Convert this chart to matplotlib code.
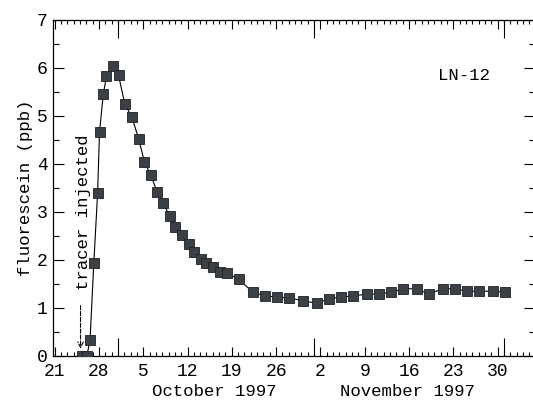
import matplotlib
matplotlib.use("Agg")
import matplotlib.pyplot as plt
from matplotlib.ticker import MultipleLocator, FixedLocator

plt.rcParams['font.family'] = ['Liberation Mono', 'DejaVu Sans Mono']

# days since 21 Sep 1997
days = [4.4, 5.1, 5.6, 6.2, 6.8, 7.1, 7.7, 8.2, 9.2, 10.1, 11.1, 12.2, 13.3, 14.2,
        15.2, 16.2, 17.1, 18.2, 19.1, 20.2, 21.2, 22.1, 23.1, 24.0, 25.1, 26.1,
        27.2, 29.1, 31.3, 33.2, 35.2, 37.1, 39.2, 41.4, 43.3, 45.2, 47.2, 49.3,
        51.2, 53.2, 55.1, 57.2, 59.1, 61.3, 63.2, 65.2, 67.1, 69.2, 71.2]
fluor = [0, 0, 0.33, 1.94, 3.40, 4.67, 5.46, 5.83, 6.04, 5.85, 5.25, 4.98, 4.52,
         4.04, 3.77, 3.42, 3.19, 2.92, 2.69, 2.52, 2.33, 2.17, 2.02, 1.94, 1.85,
         1.75, 1.73, 1.60, 1.33, 1.25, 1.23, 1.21, 1.15, 1.10, 1.19, 1.23, 1.25,
         1.29, 1.29, 1.33, 1.40, 1.40, 1.29, 1.40, 1.40, 1.35, 1.35, 1.35, 1.33]

week_ticks = [0, 7, 14, 21, 28, 35, 42, 49, 56, 63, 70]
week_labels = ['21', '28', '5', '12', '19', '26', '2', '9', '16', '23', '30']
month_ticks = [10, 41, 71]   # 1 Oct, 1 Nov, 1 Dec
inject_day = 4.1

fig = plt.figure(figsize=(5.33, 4.01), dpi=100)
ax = fig.add_axes([53 / 533, 45 / 401, 482 / 533, 336 / 401])

ax.plot(days, fluor, color='black', lw=0.8, zorder=2)
ax.plot(days, fluor, ls='none', marker='s', ms=7, mfc='#3b4046', mec='#1e2124',
        mew=0.6, zorder=3)

ax.set_xlim(-0.25, 75.9)
ax.set_ylim(0, 7)

ax.xaxis.set_major_locator(FixedLocator(week_ticks))
ax.set_xticklabels(week_labels)
ax.xaxis.set_minor_locator(MultipleLocator(1))
ax.yaxis.set_major_locator(MultipleLocator(1))
ax.yaxis.set_minor_locator(MultipleLocator(0.5))

ax.tick_params(which='both', direction='in', top=True, right=True, width=0.8,
               labelsize=13, colors='black')
ax.tick_params(axis='x', which='major', length=6.5, pad=5)
ax.tick_params(axis='x', which='minor', length=3)
ax.tick_params(axis='y', which='major', length=8, pad=4)
ax.tick_params(axis='y', which='minor', length=4)

# longer ticks at month starts
for loc in ('bottom', 'top'):
    sec = ax.secondary_xaxis(loc)
    sec.set_xticks(month_ticks)
    sec.tick_params(direction='in', length=13, width=0.8, labelbottom=False,
                    labeltop=False)
    sec.spines[loc].set_visible(False)

for s in ax.spines.values():
    s.set_linewidth(0.9)

ax.set_ylabel('fluorescein (ppb)', fontsize=12.5, labelpad=3)

ax.text(25.3, -0.105, 'October 1997', transform=ax.get_xaxis_transform(),
        ha='center', va='center', fontsize=12.5)
ax.text(55.8, -0.105, 'November 1997', transform=ax.get_xaxis_transform(),
        ha='center', va='center', fontsize=12.5)

ax.text(64.6, 5.85, 'LN-12', ha='center', va='center', fontsize=12.5)

ax.text(inject_day + 0.4, 1.38, 'tracer injected', rotation=90, ha='center',
        va='bottom', fontsize=12.5)
ax.annotate('', xy=(inject_day, 0.15), xytext=(inject_day, 1.05),
            arrowprops=dict(arrowstyle='->', ls='--', lw=0.8, color='black',
                            shrinkA=0, shrinkB=0))

fig.savefig('out.png', dpi=100)
